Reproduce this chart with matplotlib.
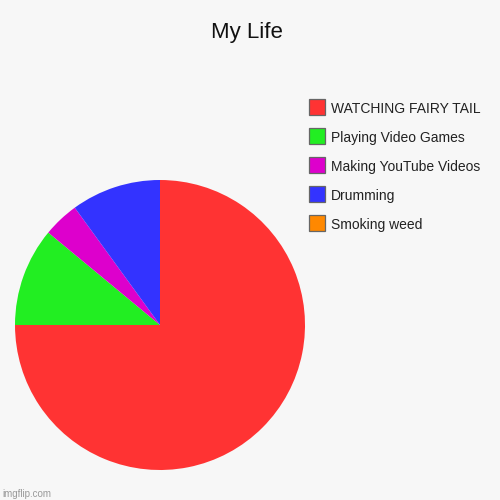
import matplotlib
matplotlib.use("Agg")
import matplotlib.pyplot as plt
from matplotlib.patches import Rectangle

categories = ["WATCHING FAIRY TAIL", "Playing Video Games", "Making YouTube Videos", "Drumming", "Smoking weed"]
values = [75, 11, 4, 10, 0]
colors = ["#ff3333", "#22ee22", "#dd00cc", "#3333ff", "#ff8800"]
title = "My Life"

plt.rcParams['font.family'] = ['Liberation Sans', 'DejaVu Sans']
bg = "#f7f7f7"
fig = plt.figure(figsize=(5, 5), dpi=100, facecolor=bg)

ax = fig.add_axes([0.03, 0.06, 0.58, 0.58])
ax.set_facecolor(bg)
ax.pie(values, colors=colors, startangle=90, counterclock=False,
       wedgeprops=dict(linewidth=0))
ax.set_xlim(-1, 1)
ax.set_ylim(-1, 1)
ax.set_aspect('equal')
ax.axis('off')

fig.text(247 / 500, 1 - 38.3 / 500, title, ha='center', va='baseline', fontsize=16, color='#111111')

# legend
x0 = 309 / 500
sw = 16 / 500
y_start = 107.3
step = 29
for i, (c, lab) in enumerate(zip(colors, categories)):
    yc = 1 - (y_start + i * step) / 500
    fig.add_artist(Rectangle((x0, yc - sw / 2), sw, sw, transform=fig.transFigure,
                             facecolor=c, edgecolor='#666666', linewidth=0.9))
    fig.text(331 / 500, 1 - (y_start + 6 + i * step) / 500, lab, ha='left', va='baseline',
             fontsize=10, color='#222222')

fig.text(0.005, 0.012, "imgflip.com", ha='left', va='center', fontsize=7, color='#999999')

fig.savefig("out.png", dpi=100, facecolor=bg)
